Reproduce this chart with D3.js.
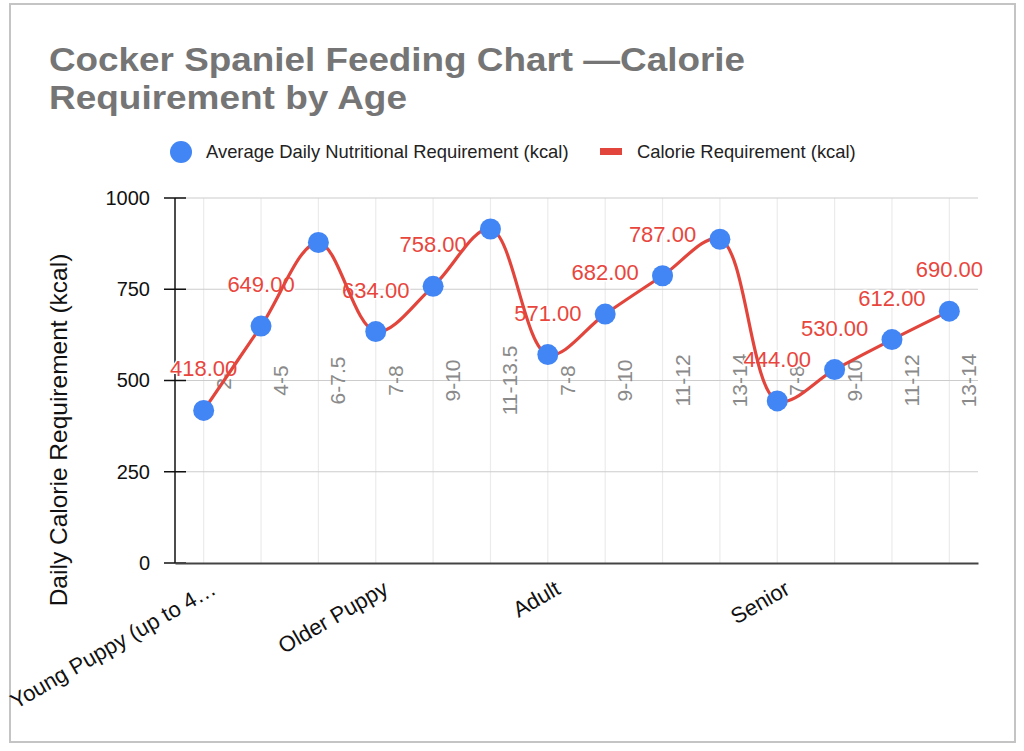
<!DOCTYPE html>
<html>
<head>
<meta charset="utf-8">
<script src="https://cdn.jsdelivr.net/npm/d3@7/dist/d3.min.js"></script>
<style>
  html, body { margin: 0; padding: 0; background: #ffffff; }
  svg { display: block; font-family: "Liberation Sans", Arial, sans-serif; }
</style>
</head>
<body>
<svg id="chart" width="1024" height="751"></svg>
<script>
// ---- data ----
const titleLines = ["Cocker Spaniel Feeding Chart \u2014Calorie", "Requirement by Age"];
const subCategories = ["2-", "4-5", "6-7.5", "7-8", "9-10", "11-13.5", "7-8", "9-10", "11-12", "13-14", "7-8", "9-10", "11-12", "13-14"];
const groupLabels = ["Young Puppy (up to 4\u2026", "Older Puppy", "Adult", "Senior"];
const groupIndex = [0, 3, 6, 10];
const calories = [418, 649, 878, 634, 758, 915, 571, 682, 787, 887, 444, 530, 612, 690];
const showLabel = [true, true, false, true, true, false, true, true, true, false, true, true, true, true];
const yTicks = [0, 250, 500, 750, 1000];
const seriesNames = ["Average Daily Nutritional Requirement (kcal)", "Calorie Requirement (kcal)"];
const yTitle = "Daily Calorie Requirement (kcal)";

const BLUE = "#4285F4", RED = "#E2453C", LABEL_RED = "#E8463D";

const svg = d3.select("#chart");

// frame
svg.append("rect").attr("x", 10).attr("y", 4).attr("width", 1005).attr("height", 738)
  .attr("fill", "#fff").attr("stroke", "#c4c4c4").attr("stroke-width", 2);

// title (two lines)
const titleWidths = [696, 358];
svg.append("g").selectAll("text").data(titleLines).join("text")
  .attr("x", 49).attr("y", (d, i) => 71 + i * 37.5)
  .attr("font-size", 33.5).attr("font-weight", "bold").attr("fill", "#757575")
  .attr("textLength", (d, i) => titleWidths[i]).attr("lengthAdjust", "spacingAndGlyphs")
  .text(d => d);

// legend
const lg = svg.append("g");
lg.append("circle").attr("cx", 181).attr("cy", 152).attr("r", 11).attr("fill", BLUE);
lg.append("text").attr("x", 206).attr("y", 158).attr("font-size", 18.4).attr("fill", "#222").text(seriesNames[0]);
lg.append("rect").attr("x", 600).attr("y", 148).attr("width", 22).attr("height", 7).attr("fill", RED);
lg.append("text").attr("x", 637).attr("y", 158).attr("font-size", 18.4).attr("fill", "#222").text(seriesNames[1]);

// scales
const idx = d3.range(calories.length);
const x = d3.scaleBand().domain(idx).range([175, 978]);
const cx = i => x(i) + x.bandwidth() / 2;
const y = d3.scaleLinear().domain([0, 1000]).range([563, 198]);

// gridlines
const grid = svg.append("g");
grid.selectAll("line.v").data(idx).join("line").attr("class", "v")
  .attr("x1", d => cx(d)).attr("x2", d => cx(d)).attr("y1", y(1000)).attr("y2", y(0))
  .attr("stroke", "#ebebeb").attr("stroke-width", 1.2);
grid.selectAll("line.h").data(yTicks.filter(t => t > 0)).join("line").attr("class", "h")
  .attr("x1", 175).attr("x2", 978).attr("y1", d => y(d)).attr("y2", d => y(d))
  .attr("stroke", "#cccccc").attr("stroke-width", 1.2);

// inner rotated sub-category labels
svg.append("g").selectAll("text").data(idx).join("text")
  .attr("transform", d => `translate(${cx(d) + 27},${y(500)}) rotate(-90)`)
  .attr("text-anchor", "middle").attr("font-size", 21).attr("fill", "#8a8a8a")
  .text(d => subCategories[d]);

// y axis
const yAxis = d3.axisLeft(y).tickValues(yTicks).tickSize(0).tickPadding(25).tickFormat(d3.format("d"));
const ya = svg.append("g").attr("transform", "translate(175,0)").call(yAxis);
ya.select(".domain").remove();
ya.selectAll("text").attr("font-size", 20).attr("fill", "#111").attr("font-family", "Liberation Sans, Arial, sans-serif");
svg.append("g").selectAll("line").data(yTicks).join("line")
  .attr("x1", 164).attr("x2", 186).attr("y1", d => y(d)).attr("y2", d => y(d))
  .attr("stroke", "#111").attr("stroke-width", 1.5);
svg.append("line").attr("x1", 175).attr("x2", 175).attr("y1", y(1000)).attr("y2", y(0))
  .attr("stroke", "#111").attr("stroke-width", 1.5);

// x axis
const xAxis = d3.axisBottom(x).tickSize(0).tickFormat("");
const xa = svg.append("g").attr("transform", `translate(0,${y(0)})`).call(xAxis);
xa.select(".domain").attr("stroke", "#444").attr("stroke-width", 2);

// group labels
svg.append("g").selectAll("text").data(groupLabels).join("text")
  .attr("transform", (d, i) => `translate(${cx(groupIndex[i]) + 14},${593}) rotate(-30)`)
  .attr("text-anchor", "end").attr("font-size", 22).attr("fill", "#111")
  .text(d => d);

// y title
svg.append("text").attr("transform", "translate(67,430) rotate(-90)")
  .attr("text-anchor", "middle").attr("font-size", 24.5).attr("fill", "#111").text(yTitle);

// data label halos
const labelData = idx.filter(i => showLabel[i]);
const labels = svg.append("g");
labels.selectAll("text").data(labelData).join("text")
  .attr("x", d => cx(d)).attr("y", d => y(calories[d]) - 34)
  .attr("text-anchor", "middle").attr("font-size", 22)
  .attr("fill", "none").attr("stroke", "#fff").attr("stroke-width", 3).attr("stroke-linejoin", "round")
  .text(d => d3.format(".2f")(calories[d]));

// line
const line = d3.line().x(d => cx(d)).y(d => y(calories[d])).curve(d3.curveCatmullRom.alpha(0.5));
svg.append("path").datum(idx).attr("d", line)
  .attr("fill", "none").attr("stroke", RED).attr("stroke-width", 3.2);

// data label text
svg.append("g").selectAll("text").data(labelData).join("text")
  .attr("x", d => cx(d)).attr("y", d => y(calories[d]) - 34)
  .attr("text-anchor", "middle").attr("font-size", 22).attr("fill", LABEL_RED)
  .text(d => d3.format(".2f")(calories[d]));

// dots
svg.append("g").selectAll("circle").data(idx).join("circle")
  .attr("cx", d => cx(d)).attr("cy", d => y(calories[d])).attr("r", 10.5).attr("fill", BLUE);
</script>
</body>
</html>
